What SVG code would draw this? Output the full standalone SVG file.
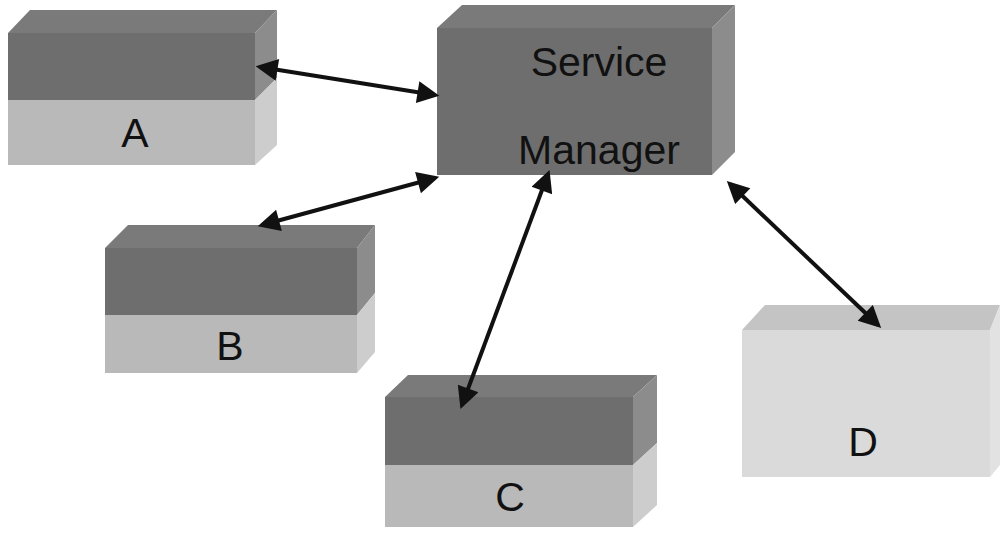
<svg xmlns="http://www.w3.org/2000/svg" width="1002" height="533" viewBox="0 0 1002 533">
<defs>
<style>
.dk{fill:#6e6e6e}
.lt{fill:#b9b9b9}
.topd{fill:#7a7a7a}
.sided{fill:#8c8c8c}
.sidel{fill:#cdcdcd}
.lbl{font-family:"Liberation Sans",Arial,sans-serif;font-size:41px;fill:#111;text-anchor:middle}
.conn{stroke:#111;stroke-width:4;fill:none;marker-start:url(#ah);marker-end:url(#ah)}
</style>
<marker id="ah" viewBox="0 0 10 10" refX="8" refY="5" markerWidth="6" markerHeight="5.5" orient="auto-start-reverse" markerUnits="strokeWidth">
<path d="M0,0 L10,5 L0,10 z" fill="#111"/>
</marker>
</defs>
<rect width="1002" height="533" fill="#fff"/>
<g id="nodeA">
<polygon class="topd" points="8,33 30,10 277,10 255,33"/>
<polygon class="sided" points="255,33 277,10 277,78 255,100"/>
<polygon class="sidel" points="255,100 277,78 277,145 255,165"/>
<rect class="dk" x="8" y="33" width="247" height="67"/>
<rect class="lt" x="8" y="100" width="247" height="65"/>
<text class="lbl" x="135" y="147">A</text>
</g>
<g id="nodeSM">
<polygon class="topd" points="437,28 462,5 735,5 712,28"/>
<polygon class="sided" points="712,28 735,5 735,152 712,175"/>
<rect class="dk" x="437" y="28" width="275" height="147" fill="#727272"/>
<text class="lbl" x="599" y="76">Service</text>
<text class="lbl" x="599" y="164">Manager</text>
</g>
<g id="nodeB">
<polygon class="topd" points="105,248 128,225 375,225 357,248"/>
<polygon class="sided" points="357,248 375,225 375,293 357,315"/>
<polygon class="sidel" points="357,315 375,293 375,352 357,373"/>
<rect class="dk" x="105" y="248" width="252" height="67"/>
<rect class="lt" x="105" y="315" width="252" height="58"/>
<text class="lbl" x="230" y="360">B</text>
</g>
<g id="nodeC">
<polygon class="topd" points="385,397 408,375 657,375 633,397"/>
<polygon class="sided" points="633,397 657,375 657,443 633,465"/>
<polygon class="sidel" points="633,465 657,443 657,505 633,527"/>
<rect class="dk" x="385" y="397" width="248" height="68"/>
<rect class="lt" x="385" y="465" width="248" height="62"/>
<text class="lbl" x="510" y="511">C</text>
</g>
<g id="nodeD">
<polygon fill="#c4c4c4" points="742,330 765,305 1000,305 990,330"/>
<polygon fill="#e2e2e2" points="990,330 1000,305 1000,465 990,477"/>
<rect x="742" y="330" width="248" height="147" fill="#dadada"/>
<text class="lbl" x="863" y="456">D</text>
</g>
<g id="connectors">
<line class="conn" x1="260" y1="67" x2="435" y2="95"/>
<line class="conn" x1="262" y1="225" x2="435" y2="178"/>
<line class="conn" x1="548" y1="174" x2="462" y2="405"/>
<line class="conn" x1="730" y1="184" x2="878" y2="325"/>
</g>
</svg>
